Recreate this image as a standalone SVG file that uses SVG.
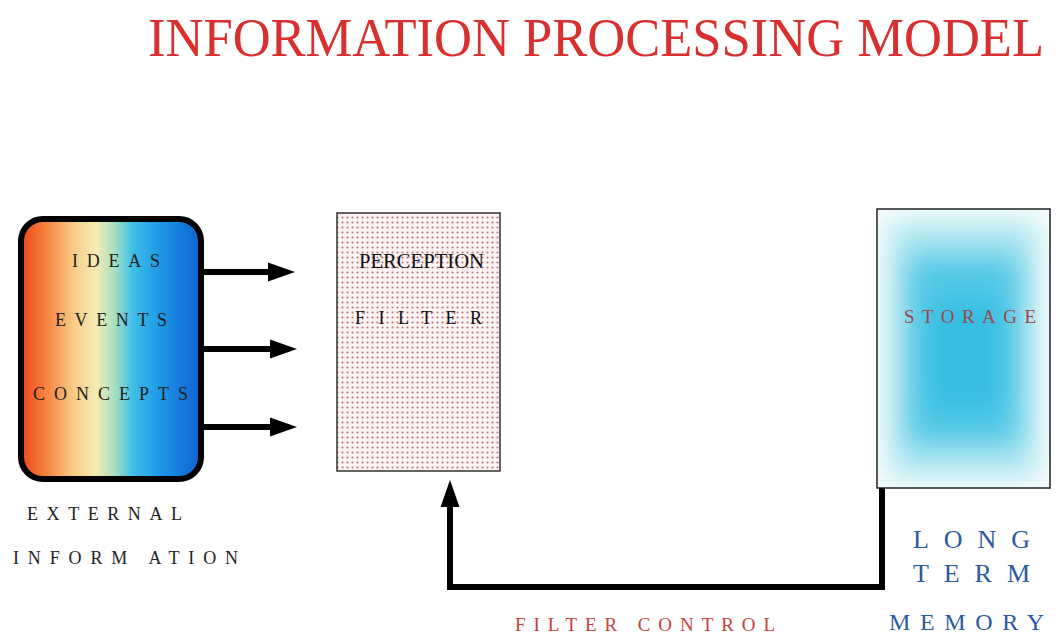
<svg xmlns="http://www.w3.org/2000/svg" width="1060" height="636" viewBox="0 0 1060 636">
  <style>
    .serif { font-family: "Liberation Serif", "Times New Roman", serif; }
    .lbl { font-size: 18px; fill: #222; }
    .conn { fill: none; stroke: #000; stroke-width: 6; }
    .blue { fill: #2c5aa0; font-size: 26px; }
  </style>
  <defs>
    <linearGradient id="spectrum" x1="0" y1="0" x2="1" y2="0">
      <stop offset="0" stop-color="#ee4418"/>
      <stop offset="0.14" stop-color="#f5843e"/>
      <stop offset="0.3" stop-color="#f8cf8a"/>
      <stop offset="0.42" stop-color="#f3ecb2"/>
      <stop offset="0.52" stop-color="#a6dfc2"/>
      <stop offset="0.62" stop-color="#3fbfe8"/>
      <stop offset="0.78" stop-color="#1b96e6"/>
      <stop offset="1" stop-color="#1060d0"/>
    </linearGradient>
    <filter id="soft" x="-30%" y="-30%" width="160%" height="160%">
      <feGaussianBlur stdDeviation="14"/>
    </filter>
    <clipPath id="storeClip">
      <rect x="877" y="209" width="173" height="279"/>
    </clipPath>
    <pattern id="dots" width="5" height="5" patternUnits="userSpaceOnUse">
      <rect width="5" height="5" fill="#fcf4f4"/>
      <circle cx="2.5" cy="2.5" r="1.05" fill="#b87676"/>
    </pattern>
    <marker id="head" markerUnits="userSpaceOnUse" markerWidth="28" markerHeight="20" viewBox="0 0 28 20" refX="2" refY="10" orient="auto">
      <path d="M0,0.5 L27,10 L0,19.5 z" fill="#000"/>
    </marker>
  </defs>
  <rect width="1060" height="636" fill="#ffffff"/>

  <text class="serif" transform="translate(148,56) scale(1,1.14)" x="0" y="0" font-size="49" fill="#d8302e" textLength="896" lengthAdjust="spacingAndGlyphs">INFORMATION PROCESSING MODEL</text>

  <g id="external">
    <rect x="21" y="219" width="180" height="260" rx="22" ry="22" fill="url(#spectrum)" stroke="#000" stroke-width="6"/>
    <text class="serif lbl" x="72" y="267" textLength="88">IDEAS</text>
    <text class="serif lbl" x="55" y="326" textLength="112">EVENTS</text>
    <text class="serif lbl" x="33" y="400" textLength="155">CONCEPTS</text>
    <text class="serif lbl" x="27" y="520" textLength="155">EXTERNAL</text>
    <text class="serif lbl" x="13" y="564" textLength="225">INFORM ATION</text>
  </g>

  <g id="perception">
    <rect x="337" y="213" width="163" height="258" fill="url(#dots)" stroke="#333" stroke-width="1.5"/>
    <text class="serif" x="359" y="268" font-size="21" fill="#111" textLength="125" lengthAdjust="spacingAndGlyphs">PERCEPTION</text>
    <text class="serif" x="355" y="324" font-size="18" fill="#111" textLength="127">FILTER</text>
  </g>

  <g id="storage">
    <rect x="877" y="209" width="173" height="279" fill="#f6fcfd"/>
    <g clip-path="url(#storeClip)">
      <rect x="890" y="222" width="147" height="254" fill="#aee6f0" filter="url(#soft)"/>
      <rect x="908" y="255" width="111" height="190" fill="#52c8e6" filter="url(#soft)"/>
      <rect x="930" y="300" width="70" height="110" fill="#34bde2" filter="url(#soft)"/>
    </g>
    <rect x="877" y="209" width="173" height="279" fill="none" stroke="#222" stroke-width="1.5"/>
    <text class="serif" x="904" y="323" font-size="19" fill="#a04848" textLength="132">STORAGE</text>
    <text class="serif blue" x="913" y="548" textLength="117">LONG</text>
    <text class="serif blue" x="913" y="582" textLength="117">TERM</text>
    <text class="serif" x="889" y="630" font-size="24" fill="#2c5aa0" textLength="155">MEMORY</text>
  </g>

  <g id="connectors">
    <line class="conn" x1="203" y1="272" x2="270" y2="272" stroke-width="5" marker-end="url(#head)"/>
    <line class="conn" x1="203" y1="349" x2="272" y2="349" stroke-width="5" marker-end="url(#head)"/>
    <line class="conn" x1="203" y1="427" x2="272" y2="427" stroke-width="5" marker-end="url(#head)"/>
    <path class="conn" d="M882,488 V587 H450 V505" marker-end="url(#head)"/>
    <text class="serif" x="515" y="631" font-size="19" fill="#c84040" textLength="260">FILTER   CONTROL</text>
  </g>
</svg>
